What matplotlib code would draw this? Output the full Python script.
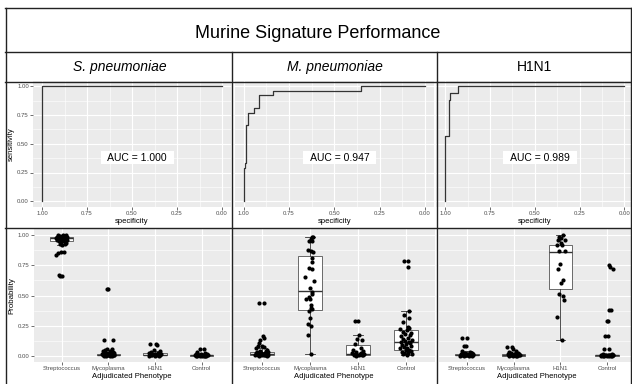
import numpy as np
import matplotlib.pyplot as plt
from matplotlib.lines import Line2D

plt.rcParams['font.family'] = ['Liberation Sans', 'DejaVu Sans']

title = "Murine Signature Performance"
col_titles = ["S. pneumoniae", "M. pneumoniae", "H1N1"]
col_italic = [True, True, False]
categories = ["Streptococcus", "Mycoplasma", "H1N1", "Control"]
auc_labels = ["AUC = 1.000", "AUC = 0.947", "AUC = 0.989"]

# ROC curves (specificity, sensitivity corners)
roc1_spec = [1.0, 1.0, 0.0]
roc1_sens = [0.0, 1.0, 1.0]
roc2_spec = [1.0, 1.0, 0.995, 0.995, 0.987, 0.987, 0.976, 0.976, 0.945, 0.945,
             0.914, 0.914, 0.84, 0.84, 0.352, 0.352, 0.0]
roc2_sens = [0.0, 0.29, 0.29, 0.33, 0.33, 0.66, 0.66, 0.77, 0.77, 0.81,
             0.81, 0.925, 0.925, 0.96, 0.96, 1.0, 1.0]
roc3_spec = [1.0, 1.0, 0.978, 0.978, 0.972, 0.972, 0.931, 0.931, 0.0]
roc3_sens = [0.0, 0.57, 0.57, 0.88, 0.88, 0.94, 0.94, 1.0, 1.0]

# S. pneumoniae signature probabilities
sp_strep = [1.0, 1.0, 1.0, 0.995, 0.995, 0.99, 0.99, 0.99, 0.985, 0.985, 0.98, 0.98, 0.98,
            0.975, 0.97, 0.97, 0.965, 0.96, 0.96, 0.955, 0.95, 0.95, 0.945, 0.94, 0.93,
            0.93, 0.92, 0.86, 0.86, 0.85, 0.84, 0.67, 0.665, 0.66]
sp_strep_jit = [-0.08, 0.02, 0.1, -0.04, 0.06, -0.1, 0.0, 0.12, -0.06, 0.08, -0.12, 0.03, 0.1,
                -0.02, -0.08, 0.06, 0.0, -0.1, 0.11, 0.04, -0.05, 0.08, -0.01, 0.1, -0.04,
                0.06, 0.0, -0.02, 0.05, -0.08, -0.13, -0.06, 0.0, -0.03]
sp_myco = [0.557, 0.557, 0.127, 0.127, 0.058, 0.055, 0.05, 0.04, 0.035, 0.03, 0.025, 0.02,
           0.02, 0.015, 0.015, 0.01, 0.01, 0.01, 0.008, 0.006, 0.005, 0.005, 0.004, 0.003,
           0.002, 0.002, 0.001, 0.001, 0.0, 0.0]
sp_myco_jit = [-0.04, 0.0, -0.1, 0.1, -0.03, 0.07, -0.08, 0.04, -0.12, 0.1, -0.05, 0.02,
               0.12, -0.1, 0.06, -0.03, 0.09, -0.14, 0.0, 0.13, -0.07, 0.05, -0.11, 0.08,
               -0.02, 0.11, -0.09, 0.03, -0.05, 0.07]
sp_h1n1 = [0.10, 0.095, 0.09, 0.045, 0.04, 0.03, 0.025, 0.02, 0.015, 0.012, 0.01, 0.008,
           0.006, 0.005, 0.004, 0.003, 0.002, 0.001, 0.0, 0.0]
sp_h1n1_jit = [0.02, -0.1, 0.05, -0.03, 0.1, -0.08, 0.06, -0.12, 0.12, -0.04, 0.03, -0.09,
               0.08, -0.01, 0.11, -0.06, 0.04, -0.13, 0.0, 0.09]
sp_ctrl = [0.055, 0.055, 0.03, 0.02, 0.015, 0.012, 0.01, 0.008, 0.007, 0.006, 0.005, 0.005,
           0.004, 0.004, 0.003, 0.003, 0.002, 0.002, 0.002, 0.001, 0.001, 0.001, 0.0, 0.0,
           0.0, 0.0]
sp_ctrl_jit = [-0.04, 0.05, -0.1, 0.08, -0.02, 0.12, -0.12, 0.05, -0.06, 0.1, -0.03, 0.13,
               -0.09, 0.02, 0.07, -0.14, 0.0, 0.11, -0.07, 0.04, -0.11, 0.09, -0.04, 0.06,
               -0.13, 0.01]
sp_q1 = [0.95, 0.002, 0.003, 0.001]
sp_med = [0.975, 0.006, 0.008, 0.003]
sp_q3 = [0.99, 0.015, 0.02, 0.007]
sp_lo = [0.92, 0.0, 0.0, 0.0]
sp_hi = [1.0, 0.03, 0.04, 0.015]

# M. pneumoniae signature probabilities
mp_strep = [0.44, 0.44, 0.166, 0.147, 0.13, 0.105, 0.08, 0.078, 0.075, 0.06, 0.05, 0.04,
            0.035, 0.03, 0.028, 0.025, 0.022, 0.02, 0.018, 0.015, 0.013, 0.012, 0.01, 0.009,
            0.008, 0.007, 0.006, 0.005, 0.004, 0.003, 0.002, 0.001, 0.0]
mp_strep_jit = [-0.055, 0.035, 0.015, 0.035, -0.035, -0.07, -0.08, 0.0, 0.05, -0.12, 0.1,
                -0.05, 0.08, -0.1, 0.12, -0.02, 0.06, -0.13, 0.03, 0.11, -0.08, 0.0, -0.11,
                0.09, -0.04, 0.13, -0.09, 0.04, -0.14, 0.07, -0.01, 0.1, -0.06]
mp_myco = [0.99, 0.985, 0.97, 0.955, 0.95, 0.875, 0.87, 0.86, 0.81, 0.78, 0.73, 0.72, 0.65,
           0.62, 0.56, 0.53, 0.51, 0.49, 0.47, 0.47, 0.42, 0.40, 0.385, 0.37, 0.31, 0.26,
           0.25, 0.17, 0.011]
mp_myco_jit = [0.035, 0.07, 0.02, -0.02, 0.05, -0.035, 0.02, 0.07, 0.05, 0.035, -0.02, 0.05,
               -0.1, 0.085, 0.01, 0.035, 0.035, -0.02, -0.08, 0.0, 0.02, 0.015, 0.05, -0.02,
               0.0, -0.035, 0.015, -0.04, 0.02]
mp_h1n1 = [0.29, 0.29, 0.17, 0.14, 0.13, 0.10, 0.06, 0.05, 0.04, 0.03, 0.025, 0.02, 0.015,
           0.012, 0.01, 0.008, 0.006, 0.004, 0.003, 0.002, 0.0]
mp_h1n1_jit = [-0.065, 0.0, 0.03, -0.03, 0.09, -0.065, 0.06, -0.1, 0.1, -0.04, 0.07, -0.12,
               0.04, -0.07, 0.12, -0.02, 0.08, -0.09, 0.02, 0.11, -0.05]
mp_ctrl = [0.79, 0.79, 0.74, 0.37, 0.335, 0.31, 0.28, 0.24, 0.23, 0.22, 0.21, 0.20, 0.19,
           0.18, 0.17, 0.16, 0.15, 0.14, 0.13, 0.12, 0.115, 0.11, 0.105, 0.10, 0.09, 0.08,
           0.07, 0.065, 0.06, 0.05, 0.045, 0.04, 0.03, 0.025, 0.02, 0.015, 0.01, 0.005]
mp_ctrl_jit = [-0.04, 0.05, 0.035, 0.055, -0.035, 0.055, -0.055, 0.04, 0.07, -0.12, 0.02,
               -0.06, 0.1, -0.02, 0.08, -0.1, 0.04, -0.07, 0.12, -0.03, 0.06, -0.11, 0.09,
               0.0, -0.08, 0.11, -0.05, 0.03, -0.13, 0.07, -0.01, 0.1, -0.09, 0.05, -0.04,
               0.12, -0.06, 0.02]
mp_q1 = [0.002, 0.38, 0.003, 0.044]
mp_med = [0.012, 0.537, 0.014, 0.11]
mp_q3 = [0.028, 0.83, 0.09, 0.213]
mp_lo = [0.0, 0.011, 0.0, 0.005]
mp_hi = [0.065, 0.99, 0.17, 0.37]

# H1N1 signature probabilities
h1_strep = [0.147, 0.147, 0.08, 0.08, 0.036, 0.03, 0.025, 0.02, 0.018, 0.015, 0.013, 0.012,
            0.01, 0.009, 0.008, 0.007, 0.006, 0.005, 0.005, 0.004, 0.003, 0.003, 0.002,
            0.002, 0.001, 0.001, 0.0, 0.0]
h1_strep_jit = [-0.11, 0.0, -0.07, -0.015, -0.11, 0.06, -0.04, 0.1, -0.12, 0.03, 0.12, -0.08,
                0.07, -0.02, 0.11, -0.13, 0.0, 0.09, -0.06, 0.13, -0.1, 0.04, -0.03, 0.08,
                -0.14, 0.05, -0.07, 0.1]
h1_myco = [0.07, 0.07, 0.055, 0.04, 0.03, 0.025, 0.02, 0.018, 0.015, 0.012, 0.01, 0.009,
           0.008, 0.007, 0.006, 0.005, 0.004, 0.003, 0.003, 0.002, 0.002, 0.001, 0.001, 0.0, 0.0]
h1_myco_jit = [-0.14, -0.04, -0.02, 0.06, -0.1, 0.1, -0.06, 0.03, 0.12, -0.12, 0.0, 0.08,
               -0.08, 0.05, -0.03, 0.11, -0.11, 0.02, 0.09, -0.05, 0.13, -0.09, 0.04, -0.01,
               0.07]
h1_h1n1 = [1.0, 0.99, 0.98, 0.96, 0.96, 0.94, 0.92, 0.92, 0.87, 0.87, 0.765, 0.72, 0.63,
           0.60, 0.515, 0.50, 0.46, 0.32, 0.13]
h1_h1n1_jit = [0.065, -0.03, 0.02, 0.09, -0.05, 0.015, -0.065, 0.045, -0.03, 0.09, -0.01,
               -0.05, 0.055, 0.02, -0.03, 0.065, 0.08, -0.08, 0.03]
h1_ctrl = [0.75, 0.74, 0.72, 0.38, 0.38, 0.29, 0.29, 0.16, 0.16, 0.053, 0.053, 0.012, 0.01,
           0.008, 0.007, 0.006, 0.005, 0.004, 0.004, 0.003, 0.003, 0.002, 0.002, 0.001,
           0.001, 0.001, 0.0, 0.0, 0.0, 0.0]
h1_ctrl_jit = [0.045, 0.07, 0.135, 0.045, 0.095, 0.0, 0.03, -0.05, 0.03, -0.065, 0.045, 0.1,
               -0.08, 0.05, -0.12, 0.02, 0.09, -0.04, 0.12, -0.1, 0.07, -0.02, 0.13, -0.06,
               0.04, -0.13, 0.08, -0.09, 0.01, 0.11]
h1_q1 = [0.002, 0.001, 0.554, 0.0]
h1_med = [0.006, 0.004, 0.86, 0.002]
h1_q3 = [0.015, 0.01, 0.922, 0.006]
h1_lo = [0.0, 0.0, 0.13, 0.0]
h1_hi = [0.036, 0.02, 1.0, 0.012]

W, H = 632, 384
fig = plt.figure(figsize=(W / 100, H / 100), dpi=100)
fig.patch.set_facecolor('white')


def px_axes(left, top, right, bottom):
    return fig.add_axes([left / W, 1 - bottom / H, (right - left) / W, (bottom - top) / H])


def gg_style(ax):
    ax.set_facecolor('#EBEBEB')
    for s in ax.spines.values():
        s.set_visible(False)
    ax.grid(which='major', color='white', lw=0.8)
    ax.grid(which='minor', color='white', lw=0.4)
    ax.set_axisbelow(True)
    ax.tick_params(which='major', length=2, width=0.5, color='#333333',
                   labelsize=4.3, labelcolor='#4D4D4D', pad=1)
    ax.tick_params(which='minor', length=0)


ticks = [0, 0.25, 0.5, 0.75, 1.0]
minor = [0.125, 0.375, 0.625, 0.875]
tick_txt = ['0.00', '0.25', '0.50', '0.75', '1.00']

roc_curves = [(roc1_spec, roc1_sens), (roc2_spec, roc2_sens), (roc3_spec, roc3_sens)]
roc_px = [(33, 231), (234.6, 434), (436.3, 633.3)]
for i, ((spec, sens), (l, r)) in enumerate(zip(roc_curves, roc_px)):
    ax = px_axes(l, 80.5, r, 207)
    gg_style(ax)
    ax.set_xlim(1.05, -0.05)
    ax.set_ylim(-0.05, 1.05)
    ax.set_xticks(ticks)
    ax.set_xticklabels(tick_txt)
    ax.set_xticks(minor, minor=True)
    ax.set_yticks(ticks)
    ax.set_yticks(minor, minor=True)
    if i == 0:
        ax.set_yticklabels(tick_txt)
        ax.set_ylabel('sensitivity', fontsize=5.5, labelpad=1.5)
    else:
        ax.tick_params(axis='y', which='both', left=False, labelleft=False)
    ax.set_xlabel('specificity', fontsize=5.5, labelpad=1.5)
    ax.plot(spec, sens, color='#333333', lw=0.9)
    ax.text(0.47, 0.38, '  ' + auc_labels[i] + '  ', fontsize=7.5, ha='center', va='center',
            bbox=dict(boxstyle='square,pad=0.15', facecolor='white', edgecolor='none'))

box_panels = [
    ([sp_strep, sp_myco, sp_h1n1, sp_ctrl],
     [sp_strep_jit, sp_myco_jit, sp_h1n1_jit, sp_ctrl_jit],
     (sp_q1, sp_med, sp_q3, sp_lo, sp_hi)),
    ([mp_strep, mp_myco, mp_h1n1, mp_ctrl],
     [mp_strep_jit, mp_myco_jit, mp_h1n1_jit, mp_ctrl_jit],
     (mp_q1, mp_med, mp_q3, mp_lo, mp_hi)),
    ([h1_strep, h1_myco, h1_h1n1, h1_ctrl],
     [h1_strep_jit, h1_myco_jit, h1_h1n1_jit, h1_ctrl_jit],
     (h1_q1, h1_med, h1_q3, h1_lo, h1_hi)),
]
box_px = [(33.7, 229.7), (233.2, 434.8), (439, 635)]
pos = np.arange(1, 5)
for i, ((groups, jits, st), (l, r)) in enumerate(zip(box_panels, box_px)):
    ax = px_axes(l, 229.3, r, 361.7)
    gg_style(ax)
    q1, med, q3, lo, hi = st
    stats = [dict(q1=q1[k], med=med[k], q3=q3[k], whislo=lo[k], whishi=hi[k], fliers=[])
             for k in range(4)]
    ax.bxp(stats, positions=pos, widths=0.5, showfliers=False, patch_artist=True,
           capwidths=0.2, manage_ticks=False,
           boxprops=dict(facecolor='white', edgecolor='#333333', lw=0.5),
           medianprops=dict(color='#333333', lw=1.0),
           whiskerprops=dict(color='#333333', lw=0.6),
           capprops=dict(color='#333333', lw=0.6))
    for k, (vals, jit) in enumerate(zip(groups, jits)):
        xs = [pos[k] + d for d, v in zip(jit, vals)]
        ys = [v for d, v in zip(jit, vals)]
        ax.scatter(xs, ys, s=9, color='black', lw=0, zorder=3)
    ax.set_xlim(0.4, 4.6)
    ax.set_ylim(-0.05, 1.05)
    ax.set_xticks(pos)
    ax.set_xticklabels(categories)
    ax.set_yticks(ticks)
    ax.set_yticks(minor, minor=True)
    if i == 0:
        ax.set_yticklabels(tick_txt)
        ax.set_ylabel('Probability', fontsize=5.7, labelpad=1.5)
    else:
        ax.tick_params(axis='y', which='both', left=False, labelleft=False)
    ax.set_xlabel('Adjudicated Phenotype', fontsize=5.5, labelpad=1.5)


# table frame
def hline(y, x0, x1):
    fig.add_artist(Line2D([x0 / W, x1 / W], [1 - y / H, 1 - y / H], color='#222222', lw=1))


def vline(x, y0, y1):
    fig.add_artist(Line2D([x / W, x / W], [1 - y0 / H, 1 - y1 / H], color='#222222', lw=1))


hline(8, 5, 632)
hline(52, 5, 632)
hline(82, 5, 632)
hline(228, 5, 632)
vline(5.5, 8, 384)
vline(631, 8, 384)
vline(232, 52, 384)
vline(437, 52, 384)

fig.text(318 / W, 1 - 33 / H, title, fontsize=13, ha='center', va='center')
col_cx = [120, 335, 535]
for t, it, cx in zip(col_titles, col_italic, col_cx):
    fig.text(cx / W, 1 - 67 / H, t, fontsize=10, ha='center', va='center',
             style='italic' if it else 'normal')

fig.savefig('out.png', dpi=100)
